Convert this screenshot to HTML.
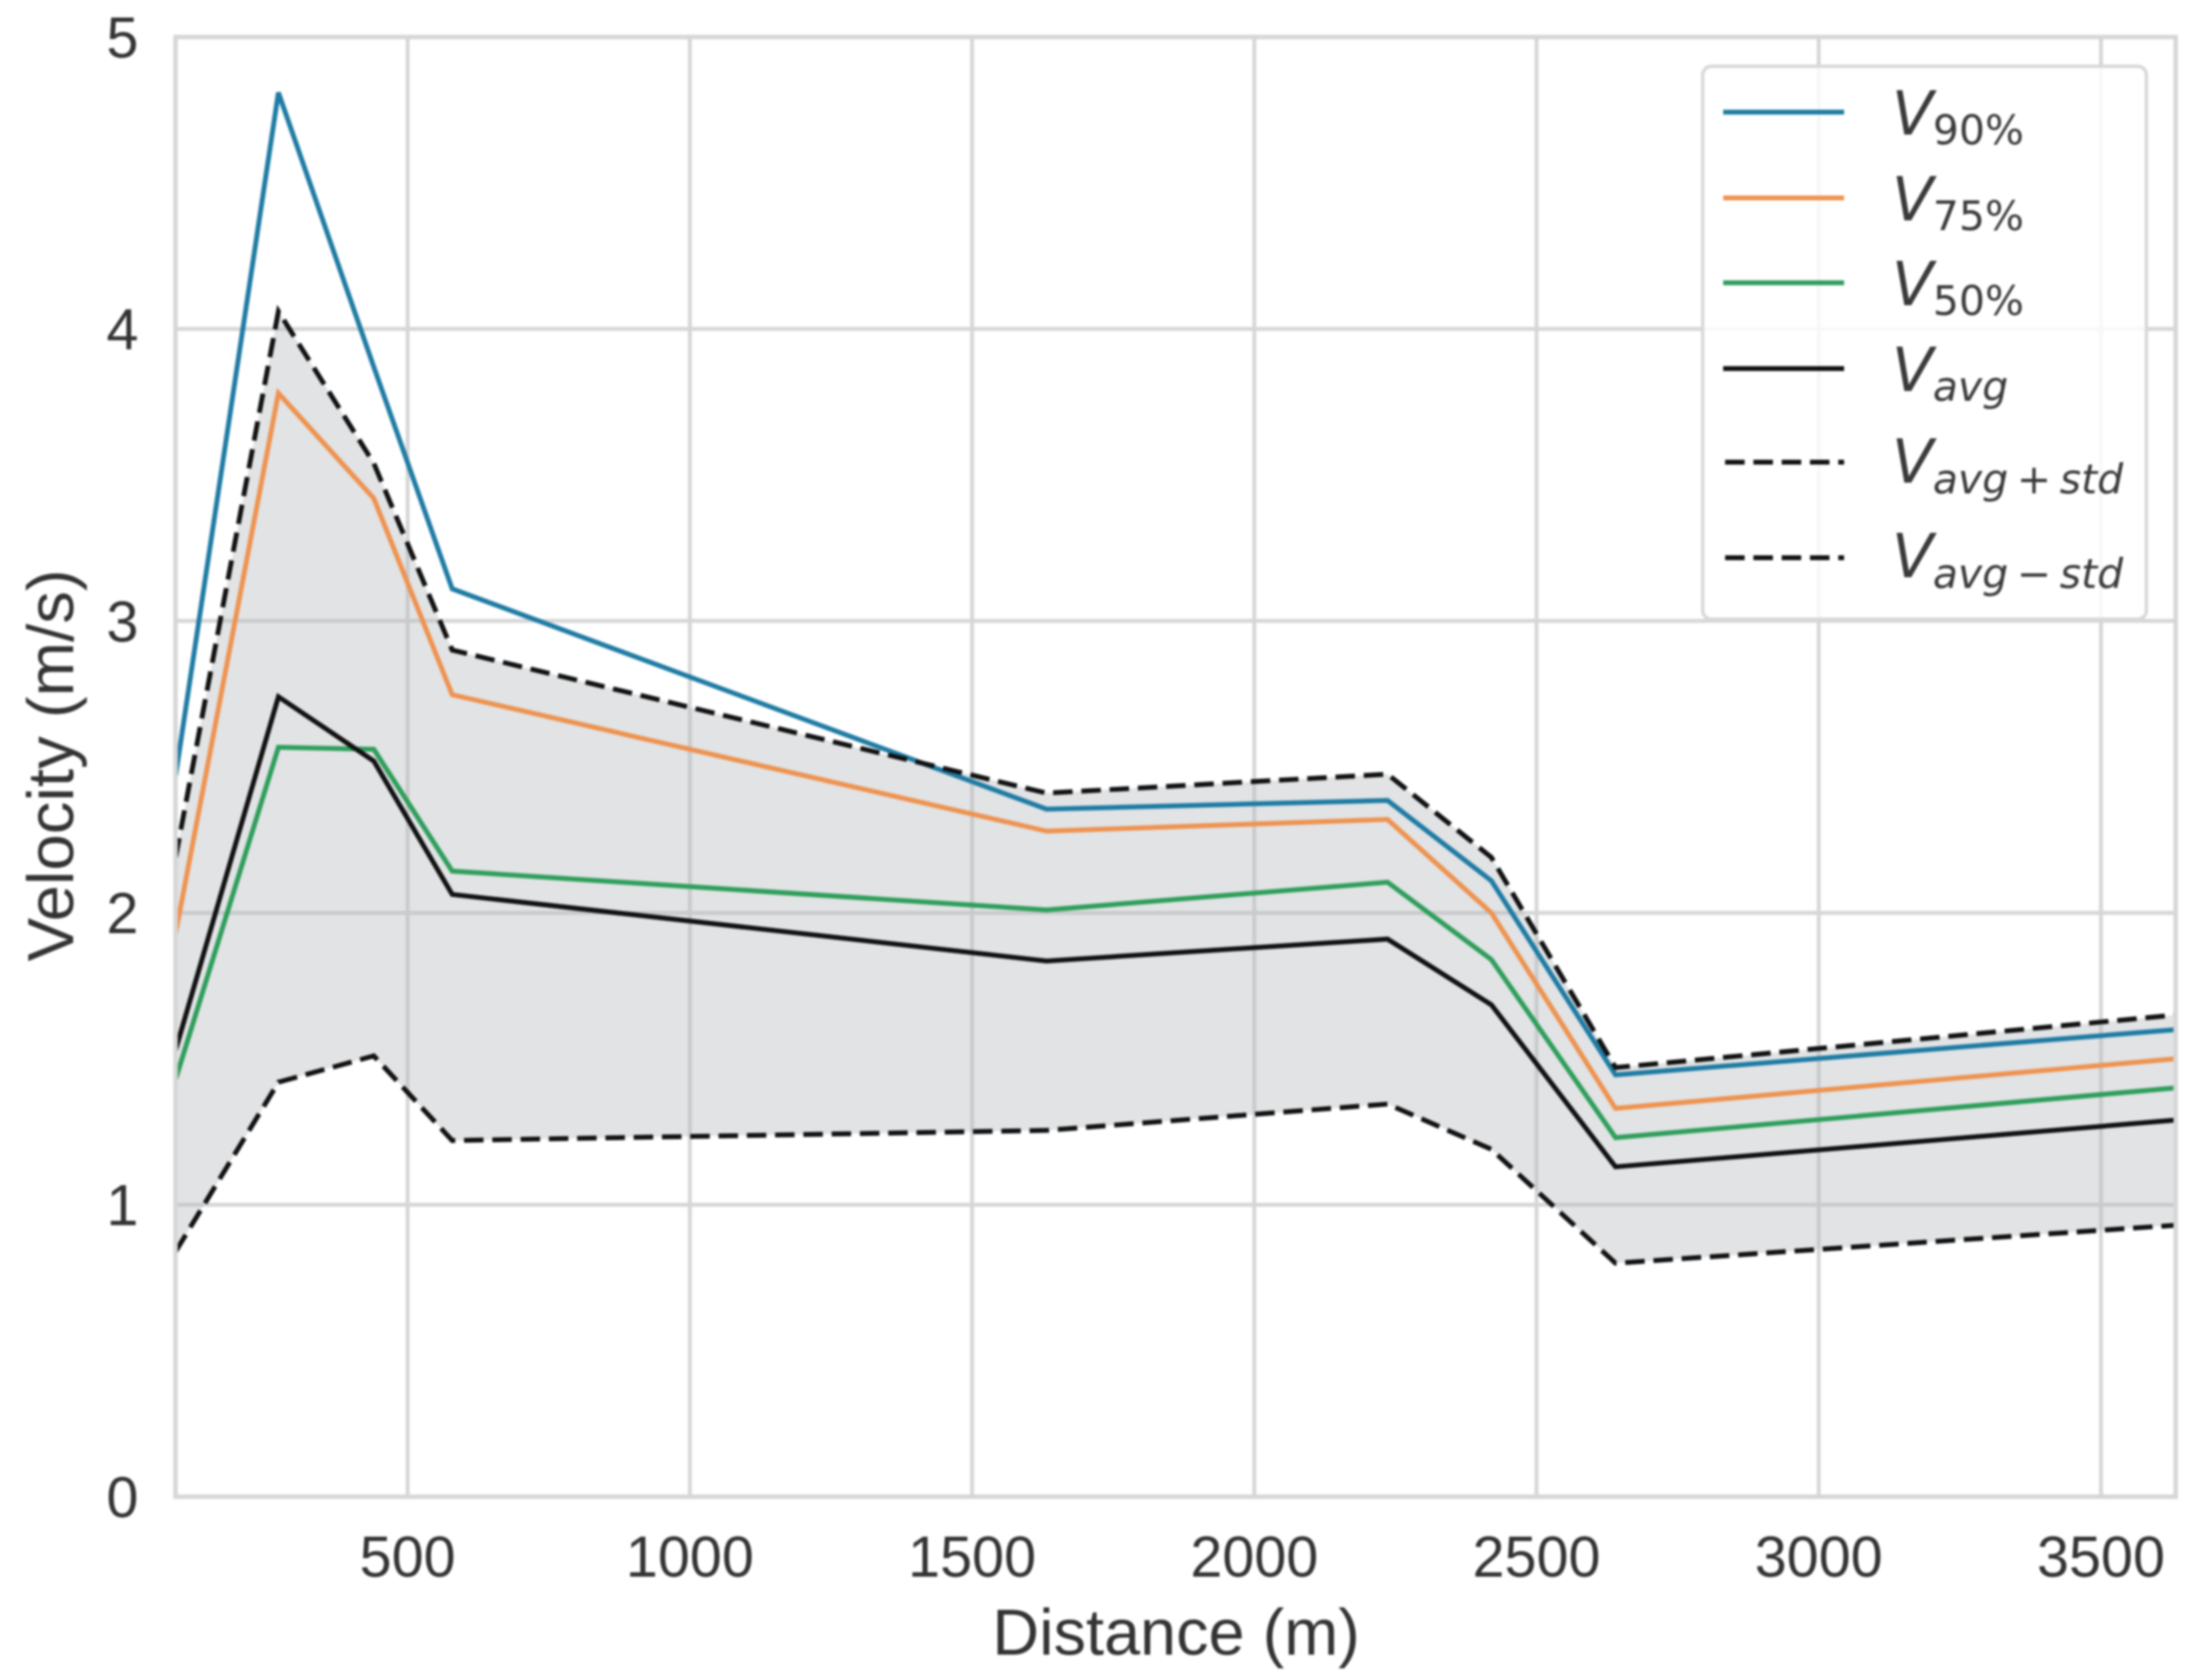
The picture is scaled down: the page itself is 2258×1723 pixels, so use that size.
<!DOCTYPE html>
<html lang="en">
<head>
<meta charset="utf-8">
<title>Velocity vs Distance</title>
<style>
html,body{margin:0;padding:0;background:#fff;width:2258px;height:1723px;overflow:hidden}
svg{display:block;filter:blur(1px)}
text{font-family:"Liberation Sans",sans-serif;fill:#333}
.lg{font-family:"DejaVu Sans",sans-serif;fill:#3a3a3a}
</style>
</head>
<body>
<svg id="chart" xmlns="http://www.w3.org/2000/svg" width="2258" height="1723" viewBox="0 0 2258 1723">
  <defs><clipPath id="plot-clip"><rect x="180" y="38" width="2051" height="1497"/></clipPath></defs>
  <rect x="0" y="0" width="2258" height="1723" fill="#fff"/>
  <g id="grid"></g>
  <g id="marks" clip-path="url(#plot-clip)"></g>
  <g id="frame"></g>
  <g id="ticks"></g>
  <text x="1206" y="1697" font-size="66.5" text-anchor="middle">Distance (m)</text>
  <text transform="translate(75,785) rotate(-90)" font-size="67" text-anchor="middle">Velocity (m/s)</text>

  <g>
    <rect x="1746" y="68" width="455" height="567" rx="9" fill="#fff" fill-opacity="0.82" stroke="#d8d8d8" stroke-width="3.5"/>
    <g>
      <line x1="1767" x2="1891" y1="115" y2="115" stroke="#1f7ba3" stroke-width="5"/>
      <text class="lg" x="1940" y="138" font-size="62" font-style="italic">V</text>
      <text class="lg" x="1982" y="148" font-size="42">90%</text>
    </g>
    <g>
      <line x1="1767" x2="1891" y1="203" y2="203" stroke="#ee9350" stroke-width="5"/>
      <text class="lg" x="1940" y="226" font-size="62" font-style="italic">V</text>
      <text class="lg" x="1982" y="236" font-size="42">75%</text>
    </g>
    <g>
      <line x1="1767" x2="1891" y1="290" y2="290" stroke="#2f9e5b" stroke-width="5"/>
      <text class="lg" x="1940" y="313" font-size="62" font-style="italic">V</text>
      <text class="lg" x="1982" y="323" font-size="42">50%</text>
    </g>
    <g>
      <line x1="1767" x2="1891" y1="378" y2="378" stroke="#111" stroke-width="5"/>
      <text class="lg" x="1940" y="401" font-size="62" font-style="italic">V</text>
      <text class="lg" x="1982" y="411" font-size="42" font-style="italic">avg</text>
    </g>
    <g>
      <line x1="1769" x2="1891" y1="474" y2="474" stroke="#111" stroke-width="5" stroke-dasharray="20 9"/>
      <text class="lg" x="1940" y="495" font-size="62" font-style="italic">V</text>
      <text class="lg" x="1982" y="506" font-size="42" font-style="italic" word-spacing="-4.5">avg + std</text>
    </g>
    <g>
      <line x1="1769" x2="1891" y1="572" y2="572" stroke="#111" stroke-width="5" stroke-dasharray="20 9"/>
      <text class="lg" x="1940" y="592" font-size="62" font-style="italic">V</text>
      <text class="lg" x="1982" y="603" font-size="42" font-style="italic" word-spacing="-4.5">avg − std</text>
    </g>
  </g>
</svg>
<script>
const distances = [89, 271, 440, 579, 1632, 2236, 2420, 2640, 3632];
const v90 = [2.47, 4.81, 3.87, 3.11, 2.355, 2.385, 2.11, 1.445, 1.60];
const v75 = [1.93, 3.78, 3.42, 2.747, 2.28, 2.32, 2.00, 1.33, 1.50];
const v50 = [1.43, 2.567, 2.56, 2.143, 2.01, 2.105, 1.84, 1.23, 1.40];
const vAvg = [1.53, 2.74, 2.52, 2.063, 1.835, 1.91, 1.685, 1.13, 1.29];
const vPlus = [2.19, 4.06, 3.54, 2.90, 2.41, 2.475, 2.19, 1.47, 1.65];
const vMinus = [0.84, 1.42, 1.51, 1.22, 1.255, 1.345, 1.19, 0.80, 0.93];
const xTicks = [500, 1000, 1500, 2000, 2500, 3000, 3500];
const yTicks = [0, 1, 2, 3, 4, 5];

const NS = 'http://www.w3.org/2000/svg';
const yMin = 0, yMax = 5;
const left = 180, right = 2231, top_ = 38, bottom = 1535;
function xs(v){ return 418 + (v - 500) * 0.5788; }
function ys(v){ return bottom - (v - yMin) * (bottom - top_) / (yMax - yMin); }
function mk(tag, attrs){
  const e = document.createElementNS(NS, tag);
  for (const k in attrs) e.setAttribute(k, attrs[k]);
  return e;
}
function pts(xa, ya){ return xa.map((d, i) => xs(d).toFixed(1) + ',' + ys(ya[i]).toFixed(1)); }

const grid = document.getElementById('grid');
const marks = document.getElementById('marks');
const frame = document.getElementById('frame');
const ticks = document.getElementById('ticks');
const gridColor = '#d6d6d6';

xTicks.forEach(t => {
  const l = mk('line', {x1: xs(t), x2: xs(t), y1: top_, y2: bottom, stroke: gridColor, 'stroke-width': 4});
  
  
  grid.appendChild(l);
  const s = mk('text', {x: xs(t), y: 1617, 'font-size': 59, 'text-anchor': 'middle'});
  
  
  s.textContent = t;
  ticks.appendChild(s);
});
yTicks.forEach(t => {
  const l = mk('line', {x1: left, x2: right, y1: ys(t), y2: ys(t), stroke: gridColor, 'stroke-width': 4});
  
  
  grid.appendChild(l);
  const s = mk('text', {x: 142, y: ys(t) + 21, 'font-size': 59, 'text-anchor': 'end'});
  
  
  s.textContent = t;
  ticks.appendChild(s);
});

const band = mk('polygon', {
  points: pts(distances, vPlus).concat(pts(distances, vMinus).reverse()).join(' '),
  fill: '#b4b9be', 'fill-opacity': 0.4
});


marks.appendChild(band);

function drawLine(values, color, dash, name){
  const p = mk('polyline', {
    points: pts(distances, values).join(' '),
    fill: 'none', stroke: color, 'stroke-width': 5, 'stroke-linejoin': 'miter'
  });
  if (dash) p.setAttribute('stroke-dasharray', dash);
  
  
  marks.appendChild(p);
}
drawLine(v90, '#1f7ba3', null, 'line-v90');
drawLine(v75, '#ee9350', null, 'line-v75');
drawLine(v50, '#2f9e5b', null, 'line-v50');
drawLine(vAvg, '#111111', null, 'line-vavg');
drawLine(vPlus, '#111111', '20 9', 'line-vavg-plus-std');
drawLine(vMinus, '#111111', '20 9', 'line-vavg-minus-std');

const spine = mk('rect', {x: left, y: top_, width: right - left, height: bottom - top_, fill: 'none', stroke: '#d6d6d6', 'stroke-width': 4.5});


frame.appendChild(spine);
</script>
</body>
</html>
